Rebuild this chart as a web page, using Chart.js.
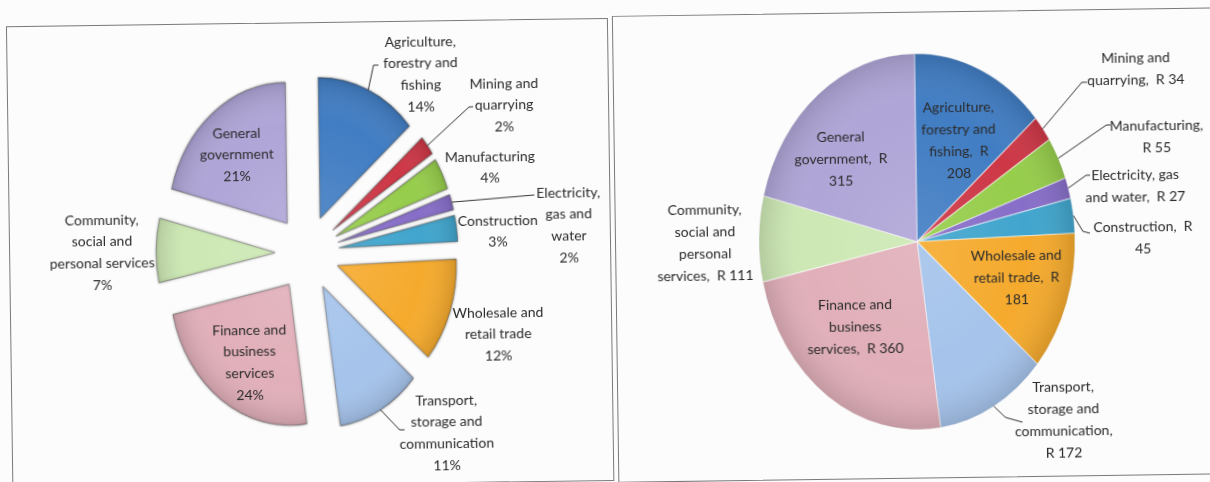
<!DOCTYPE html>
<html>
<head>
<meta charset="utf-8">
<script src="https://cdn.jsdelivr.net/npm/chart.js@4.4.1/dist/chart.umd.min.js"></script>
<style>
  html, body { margin: 0; padding: 0; background: #fcfcfc; overflow: hidden; }
  #page { position: relative; width: 1210px; height: 482px; transform: rotate(-0.8deg); }
  .frame { position: absolute; border: 1px solid #7a7a7a; }
  canvas { position: absolute; }
</style>
</head>
<body>
<div id="page">
  <div class="frame" style="left:9px;top:18px;width:600px;height:461px"></div>
  <div class="frame" style="left:615px;top:16px;width:600px;height:465px"></div>
  <canvas id="shareChart" width="596" height="460" style="left:9px;top:19px"></canvas>
  <canvas id="valueChart" width="596" height="460" style="left:619px;top:16px"></canvas>
</div>
<script>
// GDP by sector, R billion
const sectors = [
  'Agriculture, forestry and fishing',
  'Mining and quarrying',
  'Manufacturing',
  'Electricity, gas and water',
  'Construction',
  'Wholesale and retail trade',
  'Transport, storage and communication',
  'Finance and business services',
  'Community, social and personal services',
  'General government'
];
const gdpValues = [208, 34, 55, 27, 45, 181, 172, 360, 111, 315];
const sectorColours = [
  '#417dc3', '#cd3746', '#96cd4b', '#876ec8', '#41a5cd',
  '#f5aa2d', '#a5c3eb', '#e1afb9', '#cde8b4', '#afa5d7'
];

// label lines: {p} = share of total, {v} = rand value
const shareLabelLines = [
  ['Agriculture,', 'forestry and', 'fishing', '{p}'],
  ['Mining and', 'quarrying', '{p}'],
  ['Manufacturing', '{p}'],
  ['Electricity,', 'gas and', 'water', '{p}'],
  ['Construction', '{p}'],
  ['Wholesale and', 'retail trade', '{p}'],
  ['Transport,', 'storage and', 'communication', '{p}'],
  ['Finance and', 'business', 'services', '{p}'],
  ['Community,', 'social and', 'personal services', '{p}'],
  ['General', 'government', '{p}']
];
const valueLabelLines = [
  ['Agriculture,', 'forestry and', 'fishing,  R', '{v}'],
  ['Mining and', 'quarrying,  R {v}'],
  ['Manufacturing,', 'R {v}'],
  ['Electricity, gas', 'and water,  R {v}'],
  ['Construction,  R', '{v}'],
  ['Wholesale and', 'retail trade,  R', '{v}'],
  ['Transport,', 'storage and', 'communication,', 'R {v}'],
  ['Finance and', 'business', 'services,  R {v}'],
  ['Community,', 'social and', 'personal', 'services,  R {v}'],
  ['General', 'government,  R', '{v}']
];

const total = gdpValues.reduce((a, b) => a + b, 0);

// placement of labels relative to the pie centre (first line), and leader lines
const shareLayout = {
  radius: 119, stretch: 1.185, explode: 32, lineHeight: 21.7, shadow: true,
  border: 'rgba(90,90,90,0.45)',
  text: [[116, -210], [199, -167], [184, -94], [262, -57], [191, -30],
         [190, 62], [137, 149], [-59, 76], [-205, -36], [-69, -121]],
  leaders: [
    { slice: 0, via: [69, -187], to: [74, -187] },
    { slice: 1, via: [164, -144], to: [168, -144] },
    { slice: 3, via: [228, -55], to: [228, -55] },
    { slice: 6, via: [90, 178], to: [95, 178] }
  ]
};
const valueLayout = {
  radius: 158, stretch: 1.19, explode: 0, lineHeight: 22.2, shadow: false,
  border: 'rgba(255,255,255,0.55)',
  text: [[43, -134], [221, -181], [241, -113], [219, -64], [226, -12],
         [99, 15], [144, 147], [-63, 62], [-212, -35], [-75, -106]],
  leaders: [
    { slice: 1, via: [167, -157], to: [172, -157] },
    { slice: 2, via: [191, -114], to: [195, -114] },
    { slice: 3, via: [170, -64], to: [174, -64] },
    { slice: 4, via: [166, -8], to: [173, -6] },
    { slice: 6, via: [86, 177], to: [103, 182] }
  ]
};

function fillIn(line, i) {
  const pct = Math.round(gdpValues[i] / total * 100) + '%';
  return line.replace('{v}', gdpValues[i]).replace('{p}', pct);
}

// draws the slices squashed into an upright ellipse (and pulled apart if exploded),
// then writes the labels and leader lines
function tiltedPie(layout, lines) {
  return {
    id: 'tiltedPie',
    beforeDatasetDraw(chart, args) {
      const ctx = chart.ctx;
      args.meta.data.forEach(arc => {
        const mid = (arc.startAngle + arc.endAngle) / 2;
        ctx.save();
        ctx.translate(arc.x, arc.y);
        ctx.scale(1, layout.stretch);
        ctx.translate(-arc.x, -arc.y);
        ctx.translate(Math.cos(mid) * layout.explode, Math.sin(mid) * layout.explode);
        if (layout.shadow) {
          ctx.shadowColor = 'rgba(0,0,0,0.35)';
          ctx.shadowBlur = 3;
        }
        arc.draw(ctx);
        ctx.shadowColor = 'transparent';
        // soft rim shading
        const g = ctx.createRadialGradient(arc.x, arc.y, 0, arc.x, arc.y, arc.outerRadius);
        g.addColorStop(0, 'rgba(255,255,255,0.10)');
        g.addColorStop(0.7, 'rgba(255,255,255,0)');
        g.addColorStop(1, 'rgba(0,0,0,0.13)');
        ctx.beginPath();
        ctx.moveTo(arc.x, arc.y);
        ctx.arc(arc.x, arc.y, arc.outerRadius, arc.startAngle, arc.endAngle);
        ctx.closePath();
        ctx.fillStyle = g;
        ctx.fill();
        ctx.restore();
      });
      return false;
    },
    afterDatasetsDraw(chart) {
      const ctx = chart.ctx;
      const arcs = chart.getDatasetMeta(0).data;
      const cx = arcs[0].x, cy = arcs[0].y;
      ctx.save();
      ctx.strokeStyle = '#333';
      ctx.lineWidth = 1;
      layout.leaders.forEach(ld => {
        const arc = arcs[ld.slice];
        const mid = (arc.startAngle + arc.endAngle) / 2;
        const r = arc.outerRadius + layout.explode;
        const x0 = cx + Math.cos(mid) * r;
        const y0 = cy + Math.sin(mid) * r * layout.stretch;
        ctx.beginPath();
        ctx.moveTo(x0, y0);
        ctx.lineTo(cx + ld.via[0], cy + ld.via[1]);
        ctx.lineTo(cx + ld.to[0], cy + ld.to[1]);
        ctx.stroke();
      });
      ctx.fillStyle = '#2b2b2b';
      ctx.font = '14px Lato';
      ctx.textAlign = 'center';
      ctx.textBaseline = 'middle';
      lines.forEach((block, i) => {
        const [dx, dy] = layout.text[i];
        block.forEach((line, k) => {
          ctx.fillText(fillIn(line, i), cx + dx, cy + dy + k * layout.lineHeight);
        });
      });
      ctx.restore();
    }
  };
}

function makeChart(id, layout, lines) {
  return new Chart(document.getElementById(id), {
    type: 'pie',
    data: {
      labels: sectors,
      datasets: [{
        data: gdpValues,
        backgroundColor: sectorColours,
        borderColor: layout.border,
        borderWidth: 1
      }]
    },
    options: {
      responsive: false,
      animation: false,
      events: [],
      radius: layout.radius,
      layout: { padding: 0 },
      plugins: {
        legend: { display: false },
        tooltip: { enabled: false }
      }
    },
    plugins: [tiltedPie(layout, lines)]
  });
}

makeChart('shareChart', shareLayout, shareLabelLines);
makeChart('valueChart', valueLayout, valueLabelLines);
</script>
</body>
</html>
